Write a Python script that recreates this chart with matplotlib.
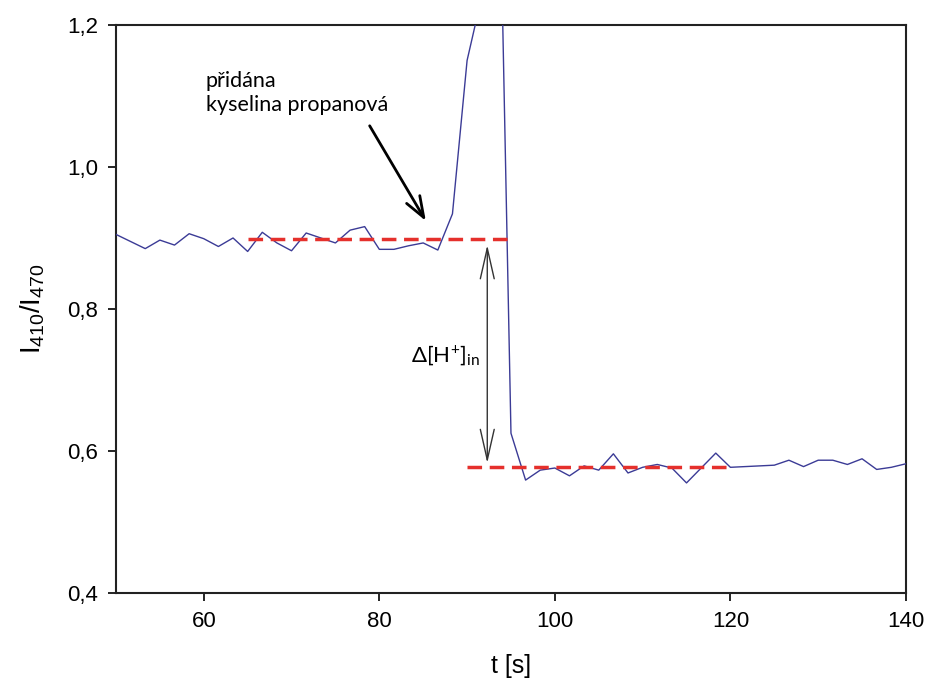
import matplotlib
matplotlib.use("Agg")
import matplotlib.pyplot as plt
import numpy as np

# time axis: one sample every 5/3 s, 50 s .. 140 s
t = np.linspace(50, 140, 55)
ratio = [0.905, 0.895, 0.885, 0.897, 0.890, 0.906, 0.899, 0.888, 0.900, 0.881,
         0.908, 0.893, 0.882, 0.907, 0.900, 0.893, 0.911, 0.916, 0.884, 0.884,
         0.889, 0.893, 0.883, 0.934, 1.150, 1.240, 1.650, 0.625, 0.559, 0.573,
         0.576, 0.565, 0.579, 0.573, 0.596, 0.569, 0.577, 0.581, 0.576, 0.555,
         0.576, 0.597, 0.577, 0.578, 0.579, 0.580, 0.587, 0.578, 0.587, 0.587,
         0.581, 0.589, 0.574, 0.577, 0.582]

level_before = 0.899
level_after = 0.577
before_span = [65, 95]
after_span = [90, 120]

xticks = [60, 80, 100, 120, 140]
yticks = [0.4, 0.6, 0.8, 1.0, 1.2]

plt.rcParams['font.family'] = ['Liberation Sans', 'DejaVu Sans']
plt.rcParams['mathtext.fontset'] = 'custom'
plt.rcParams['mathtext.rm'] = 'Liberation Sans'
plt.rcParams['mathtext.it'] = 'Liberation Sans'

fig = plt.figure(figsize=(9.25, 6.86), dpi=100)
ax = fig.add_axes([0.1254, 0.1356, 0.8540, 0.8280])

ax.plot(t, ratio, color='#3b3b96', lw=1.0, zorder=3)
ax.plot(before_span, [level_before] * 2, color='#e5302c', lw=2.5,
        dashes=(4.2, 2.2), zorder=4)
ax.plot(after_span, [level_after] * 2, color='#e5302c', lw=2.5,
        dashes=(4.2, 2.2), zorder=4)

# double arrow between the two levels
ax.annotate('', xy=(92.3, 0.583), xytext=(92.3, 0.890),
            arrowprops=dict(arrowstyle='<->,head_length=2.2,head_width=0.5',
                            color='#333333', lw=1.0, shrinkA=0, shrinkB=0))
ax.text(87.6, 0.735, r'$\mathregular{\Delta[H^{+}]_{in}}$', family='Lato',
        fontsize=16, ha='center', va='center')

# arrow pointing to the addition
ax.annotate('', xy=(85.3, 0.924), xytext=(78.9, 1.058),
            arrowprops=dict(arrowstyle='->,head_length=1.5,head_width=0.55',
                            color='black', lw=2.0, shrinkA=0, shrinkB=0))
ax.text(60.2, 1.135, 'přidána\nkyselina propanová', family='Lato',
        fontsize=15.5, ha='left', va='top', linespacing=1.25)

ax.set_xlim(50, 140)
ax.set_ylim(0.4, 1.2)
ax.set_xticks(xticks)
ax.set_yticks(yticks)
ax.set_yticklabels([f'{v:.1f}'.replace('.', ',') for v in yticks])
ax.tick_params(direction='out', length=6, width=1.2, labelsize=16, pad=7)
for s in ax.spines.values():
    s.set_linewidth(1.5)
    s.set_color('#222222')

ax.set_xlabel('t [s]', fontsize=18, labelpad=16)
ax.set_ylabel(r'I$_{410}$/I$_{470}$', fontsize=20, labelpad=14)

fig.savefig('out.png', dpi=100)
